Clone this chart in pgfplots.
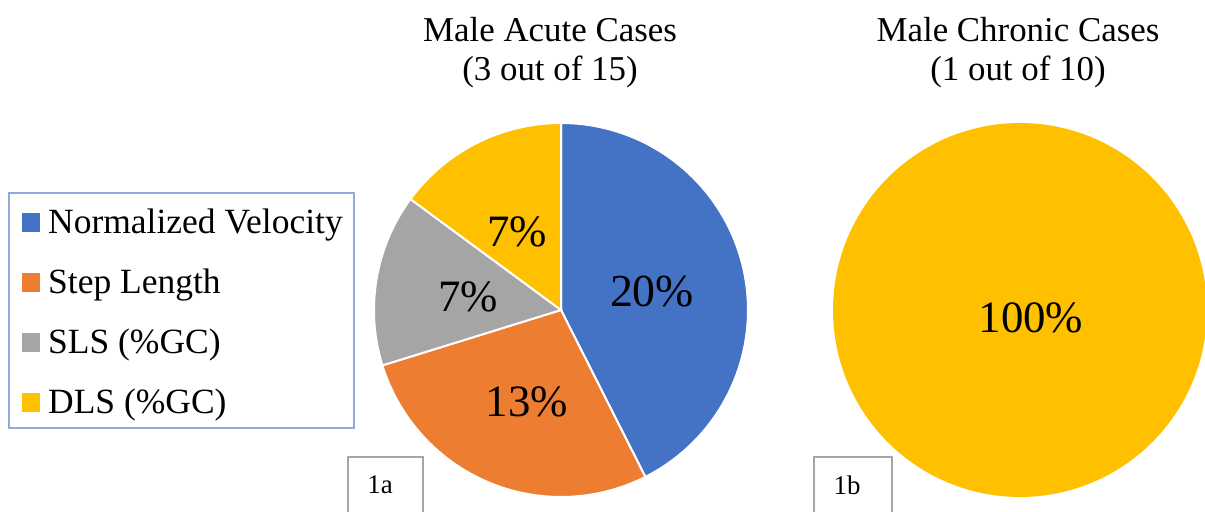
\documentclass[border=0pt]{standalone}
\usepackage{pgfplots}
\pgfplotsset{compat=1.18}
\usepackage{fontspec}
\setmainfont{Liberation Serif}
\definecolor{cblue}{HTML}{4472C4}
\definecolor{corange}{HTML}{ED7D31}
\definecolor{cgray}{HTML}{A5A5A5}
\definecolor{cyellow}{HTML}{FFC000}
\definecolor{legborder}{HTML}{8FAADC}
\definecolor{boxborder}{HTML}{A6A6A6}
% data: Male Acute Cases (percent of cases)
\def\va{20}\def\vb{13}\def\vc{7}\def\vd{7}
% data: Male Chronic Cases
\def\ve{100}
\begin{document}
\begin{tikzpicture}
\useasboundingbox (0,0) rectangle (1205bp,512bp);
\pgfmathsetmacro\tot{\va+\vb+\vc+\vd}
\pgfmathsetmacro\aa{90-360*\va/\tot}
\pgfmathsetmacro\ab{\aa-360*\vb/\tot}
\pgfmathsetmacro\ac{\ab-360*\vc/\tot}
\pgfmathsetmacro\ad{\ac-360*\vd/\tot}
\begin{axis}[x=1bp,y=1bp,xmin=0,xmax=1205,ymin=0,ymax=512,
  scale only axis,hide axis,clip=false,anchor=origin,at={(0,0)}]
% pie 1
\addplot[fill=cblue,draw=white,line width=2bp,domain=90:\aa,samples=80,variable=\t]
  ({561+187*cos(t)},{202+187*sin(t)}) -- (561,202) -- cycle;
\addplot[fill=corange,draw=white,line width=2bp,domain=\aa:\ab,samples=60,variable=\t]
  ({561+187*cos(t)},{202+187*sin(t)}) -- (561,202) -- cycle;
\addplot[fill=cgray,draw=white,line width=2bp,domain=\ab:\ac,samples=40,variable=\t]
  ({561+187*cos(t)},{202+187*sin(t)}) -- (561,202) -- cycle;
\addplot[fill=cyellow,draw=white,line width=2bp,domain=\ac:\ad,samples=40,variable=\t]
  ({561+187*cos(t)},{202+187*sin(t)}) -- (561,202) -- cycle;
% pie 2
\addplot[fill=cyellow,draw=none,domain=90:{90-3.6*\ve},samples=150,variable=\t]
  ({1020+187*cos(t)},{202+187*sin(t)}) -- cycle;
% percent labels
\node[font=\fontsize{46}{50}\selectfont] at (652,220) {20\%};
\node[font=\fontsize{45}{50}\selectfont] at (527,110) {13\%};
\node[font=\fontsize{45}{50}\selectfont] at (468,215) {7\%};
\node[font=\fontsize{45}{50}\selectfont] at (517,280) {7\%};
\node[font=\fontsize{45}{50}\selectfont] at (1031,194) {100\%};
% titles
\node[font=\fontsize{35}{40}\selectfont] at (550,482) {Male Acute Cases};
\node[font=\fontsize{35}{40}\selectfont] at (550,440) {(3 out of 15)};
\node[font=\fontsize{35}{40}\selectfont] at (1018,482) {Male Chronic Cases};
\node[font=\fontsize{35}{40}\selectfont] at (1018,440) {(1 out of 10)};
% legend
\draw[legborder,line width=1.5bp] (9,319) rectangle (354,84);
\fill[cblue] (22,299) rectangle (40,280);
\fill[corange] (22,239) rectangle (40,220);
\fill[cgray] (22,179) rectangle (40,160);
\fill[cyellow] (22,119) rectangle (40,100);
\node[anchor=base west,inner sep=0pt,font=\fontsize{35.6}{40}\selectfont] at (48,279) {Normalized Velocity};
\node[anchor=base west,inner sep=0pt,font=\fontsize{35.6}{40}\selectfont] at (48,219) {Step Length};
\node[anchor=base west,inner sep=0pt,font=\fontsize{35.6}{40}\selectfont] at (48,159) {SLS (\%GC)};
\node[anchor=base west,inner sep=0pt,font=\fontsize{35.6}{40}\selectfont] at (48,99) {DLS (\%GC)};
% panel tags
\draw[boxborder,line width=1.2bp] (348,-20) rectangle (423,55);
\node[font=\fontsize{27}{30}\selectfont] at (380,27) {1a};
\draw[boxborder,line width=1.2bp] (814,-20) rectangle (892,55);
\node[font=\fontsize{27}{30}\selectfont] at (847,27) {1b};
\end{axis}
\end{tikzpicture}
\end{document}
